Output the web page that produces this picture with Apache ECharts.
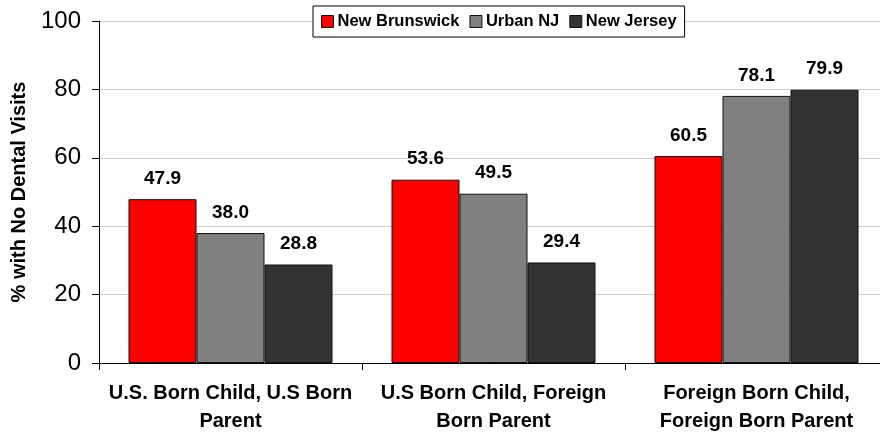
<!DOCTYPE html>
<html>
<head>
<meta charset="utf-8">
<script src="https://cdn.jsdelivr.net/npm/echarts@6/dist/echarts.min.js"></script>
<style>
html, body { margin: 0; padding: 0; background: #fff; }
#chart { width: 880px; height: 435px; }
</style>
</head>
<body>
<div id="chart"></div>
<script>
// categories and values
var categories = ['U.S. Born Child, U.S Born\nParent', 'U.S Born Child, Foreign\nBorn Parent', 'Foreign Born Child,\nForeign Born Parent'];
var seriesNames = ['New Brunswick', 'Urban NJ', 'New Jersey'];
var newBrunswick = [47.9, 53.6, 60.5];
var urbanNJ = [38.0, 49.5, 78.1];
var newJersey = [28.8, 29.4, 79.9];
var colors = ['#ff0000', '#808080', '#333333'];

var myChart = echarts.init(document.getElementById('chart'));
var font = 'Liberation Sans, Arial, sans-serif';

var makeSeries = function (name, data, i) {
    return {
        name: name,
        type: 'bar',
        data: data,
        barWidth: 68,
        barGap: '0%',
        itemStyle: {
            color: colors[i],
            borderColor: '#111',
            borderWidth: 1
        },
        label: {
            show: true,
            position: 'top',
            distance: 11,
            formatter: function (p) { return p.value.toFixed(1); },
            fontFamily: font,
            fontWeight: 'bold',
            fontSize: 19,
            color: '#000'
        }
    };
};

var option = {
    animation: false,
    color: colors,
    legend: {
        data: seriesNames,
        top: 6,
        left: 313,
        itemWidth: 12,
        itemHeight: 12,
        itemGap: 10,
        padding: [7, 8, 7, 8],
        borderColor: '#000',
        borderWidth: 1,
        backgroundColor: '#fff',
        icon: 'rect',
        itemStyle: { borderColor: '#111', borderWidth: 1 },
        textStyle: {
            fontFamily: font,
            fontWeight: 'bold',
            fontSize: 16.5,
            color: '#000',
            padding: [0, 0, 0, -1]
        }
    },
    grid: {
        left: 99,
        top: 21,
        width: 789,
        bottom: 72,
        outerBoundsMode: 'none'
    },
    xAxis: {
        type: 'category',
        data: categories,
        axisLine: { lineStyle: { color: '#000', width: 1 } },
        axisTick: { show: true, length: 7, lineStyle: { color: '#000' } },
        axisLabel: {
            interval: 0,
            fontFamily: font,
            fontWeight: 'bold',
            fontSize: 20,
            color: '#000',
            lineHeight: 28,
            margin: 16
        }
    },
    yAxis: {
        type: 'value',
        min: 0,
        max: 100,
        interval: 20,
        name: '% with No Dental Visits',
        nameLocation: 'middle',
        nameGap: 70,
        nameTextStyle: {
            fontFamily: font,
            fontWeight: 'bold',
            fontSize: 20,
            color: '#000'
        },
        axisLine: { show: true, lineStyle: { color: '#000' } },
        axisTick: { show: true, length: 7, lineStyle: { color: '#000' } },
        splitLine: { lineStyle: { color: '#cccccc' } },
        axisLabel: {
            fontFamily: font,
            fontSize: 24,
            color: '#000',
            margin: 18
        }
    },
    series: [
        makeSeries(seriesNames[0], newBrunswick, 0),
        makeSeries(seriesNames[1], urbanNJ, 1),
        makeSeries(seriesNames[2], newJersey, 2)
    ]
};
myChart.setOption(option);
</script>
</body>
</html>
